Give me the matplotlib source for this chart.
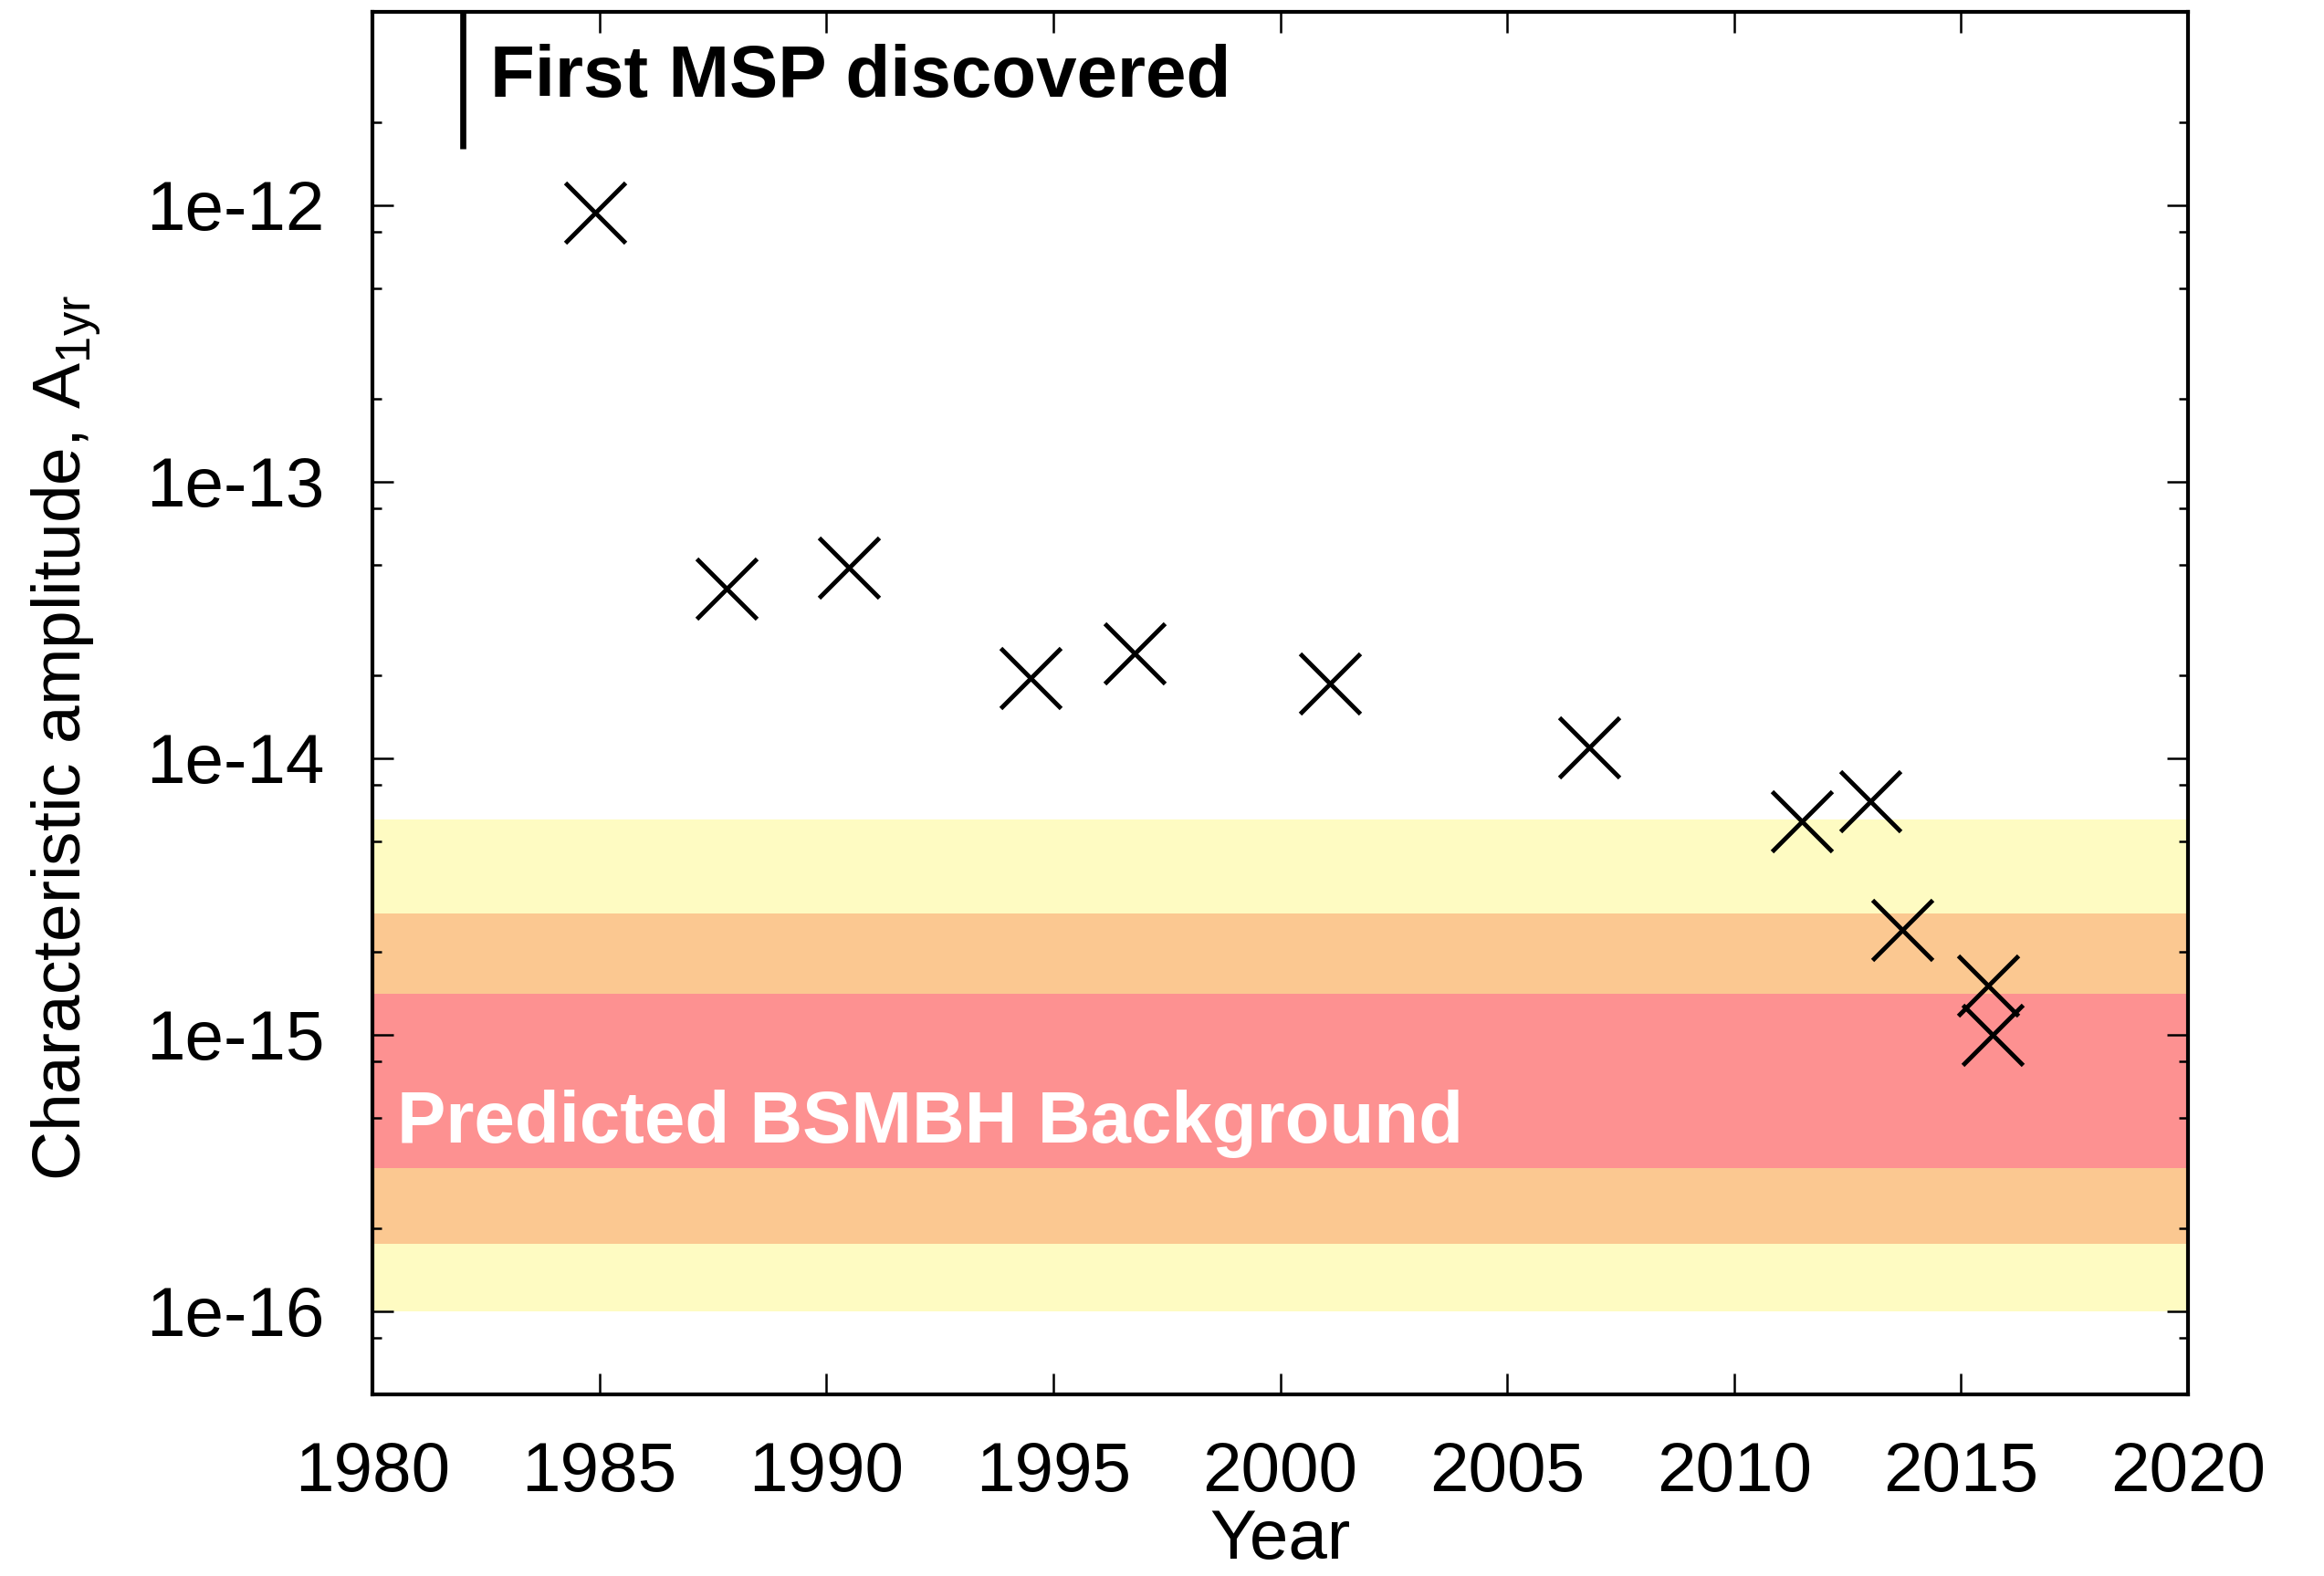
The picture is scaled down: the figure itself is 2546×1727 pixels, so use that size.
import matplotlib
matplotlib.use('Agg')

import numpy as np
import matplotlib.pyplot as plt
import matplotlib.ticker as mticker

plt.rcParams['font.family'] = ['Liberation Sans', 'DejaVu Sans']
plt.rcParams['mathtext.fontset'] = 'custom'
plt.rcParams['mathtext.rm'] = 'Liberation Sans'
plt.rcParams['mathtext.it'] = 'Liberation Sans:italic'

# upper limits on the characteristic strain amplitude vs. year
years = [1984.9, 1987.8, 1990.5, 1994.5, 1996.8, 2001.1, 2006.8,
         2011.5, 2013.0, 2013.7, 2015.6, 2015.7]
amplitudes = [9.4e-13, 4.1e-14, 4.9e-14, 1.95e-14, 2.4e-14, 1.86e-14, 1.09e-14,
              5.9e-15, 7.0e-15, 2.4e-15, 1.5e-15, 1.0e-15]

# predicted background ranges (outer to inner)
band_low = [1.0e-16, 1.75e-16, 3.28e-16]
band_high = [6.0e-15, 2.74e-15, 1.41e-15]
band_colors = ['#fefbc2', '#fbc891', '#fd9191']

msp_year = 1982
msp_bottom = 1.6e-12

xticks = [1980, 1985, 1990, 1995, 2000, 2005, 2010, 2015, 2020]
yticks = [1e-16, 1e-15, 1e-14, 1e-13, 1e-12]

fig = plt.figure(figsize=(25.46, 17.27), dpi=100)
ax = fig.add_axes([0.16025, 0.11523, 0.78123, 0.87724])
ax.set_yscale('log')
ax.set_xlim(1980, 2020)
ax.set_ylim(5e-17, 5e-12)

for lo, hi, c in zip(band_low, band_high, band_colors):
    ax.axhspan(lo, hi, color=c, lw=0, zorder=1)

ax.plot(years, amplitudes, ls='none', marker='x', ms=47, mew=3.5,
        color='black', zorder=4)

ax.plot([msp_year, msp_year], [msp_bottom, 5e-12], color='black', lw=4.8,
        solid_capstyle='butt', zorder=3)
ax.text(1982.6, 2.47e-12, 'First MSP discovered', fontsize=57.5,
        fontweight='bold', va='baseline', ha='left', zorder=5)
ax.text(1980.55, 4.08e-16, 'Predicted BSMBH Background', fontsize=57.5,
        fontweight='bold', color='white', va='baseline', ha='left', zorder=5)

ax.xaxis.set_major_locator(mticker.FixedLocator(xticks))
ax.yaxis.set_major_locator(mticker.FixedLocator(yticks))
ax.yaxis.set_minor_locator(mticker.LogLocator(base=10, subs=[2, 5, 8], numticks=20))
ax.yaxis.set_major_formatter(mticker.FuncFormatter(
    lambda v, p: '1e%d' % int(round(np.log10(v)))))
ax.yaxis.set_minor_formatter(mticker.NullFormatter())

ax.tick_params(which='both', direction='in', top=True, right=True,
               width=1.8, labelsize=55)
ax.tick_params(which='major', length=16.5)
ax.tick_params(which='minor', length=7)
ax.tick_params(axis='y', pad=38)
ax.tick_params(axis='x', pad=37)

for s in ax.spines.values():
    s.set_linewidth(3)

fig.text(0.0287, 0.532, r'Characteristic amplitude, A$_{\rm 1yr}$',
         rotation=90, ha='center', va='center', fontsize=54)
fig.text(0.551, 0.011, 'Year', ha='center', va='baseline', fontsize=55)

fig.savefig('out.png', dpi=100)
